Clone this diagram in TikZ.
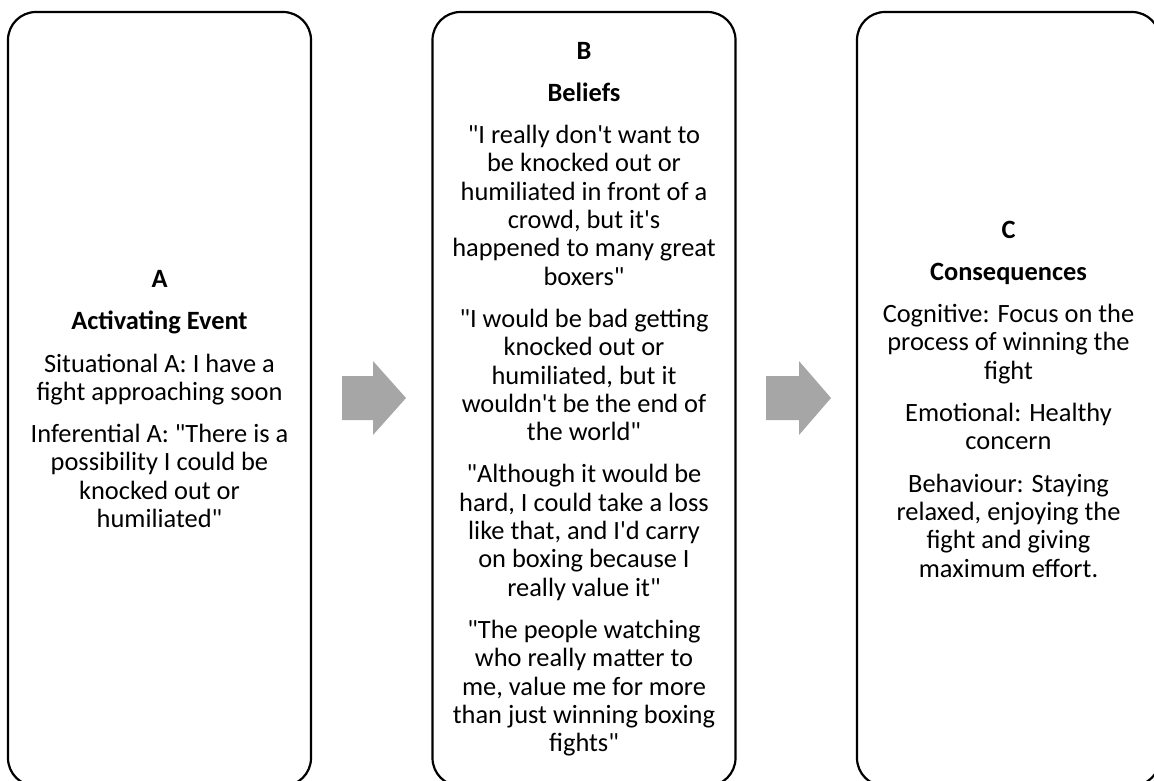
\documentclass[tikz,border=0pt]{standalone}
\usepackage{fontspec}
\setmainfont{Carlito}[Ligatures=TeXOff]
\begin{document}
\begin{tikzpicture}[x=1pt,y=-1pt,
  box/.style={draw=black, line width=2.2pt, rounded corners=28pt,
    minimum width=303pt, minimum height=774pt, inner sep=0pt,
    align=center, font=\fontsize{26.4}{28.3}\selectfont},
  bigarrow/.style={fill=arrowgray, draw=none}]
\definecolor{arrowgray}{HTML}{A6A6A6}
\useasboundingbox (0,0) rectangle (1154,780);
\clip (0,0) rectangle (1154,780);

\node[box] (A) at (159.5,399) {%
\textbf{A}\\[14pt]
\textbf{Activating Event}\\[14pt]
Situational A: I have a\\fight approaching soon\\[14pt]
Inferential A: "There is a\\possibility I could be\\knocked out or\\humiliated"};

\node[box] (B) at (584,399) {%
\textbf{B}\\[14pt]
\textbf{Beliefs}\\[14pt]
"I really don't want to\\be knocked out or\\humiliated in front of a\\crowd, but it's\\happened to many great\\boxers"\\[14pt]
"I would be bad getting\\knocked out or\\humiliated, but it\\wouldn't be the end of\\the world"\\[14pt]
"Although it would be\\hard, I could take a loss\\like that, and I'd carry\\on boxing because I\\really value it"\\[14pt]
"The people watching\\who really matter to\\me, value me for more\\than just winning boxing\\fights"};

\node[box] (C) at (1008.5,399) {%
\textbf{C}\\[14pt]
\textbf{Consequences}\\[14pt]
Cognitive: Focus on the\\process of winning the\\fight\\[14pt]
Emotional: Healthy\\concern\\[14pt]
Behaviour: Staying\\relaxed, enjoying the\\fight and giving\\maximum effort.};

\fill[bigarrow] (342,376) -- (373,376) -- (373,361) -- (406,398) -- (373,435) -- (373,420) -- (342,420) -- cycle;
\fill[bigarrow] (766,376) -- (799,376) -- (799,361) -- (831,398) -- (799,435) -- (799,420) -- (766,420) -- cycle;
\end{tikzpicture}
\end{document}
